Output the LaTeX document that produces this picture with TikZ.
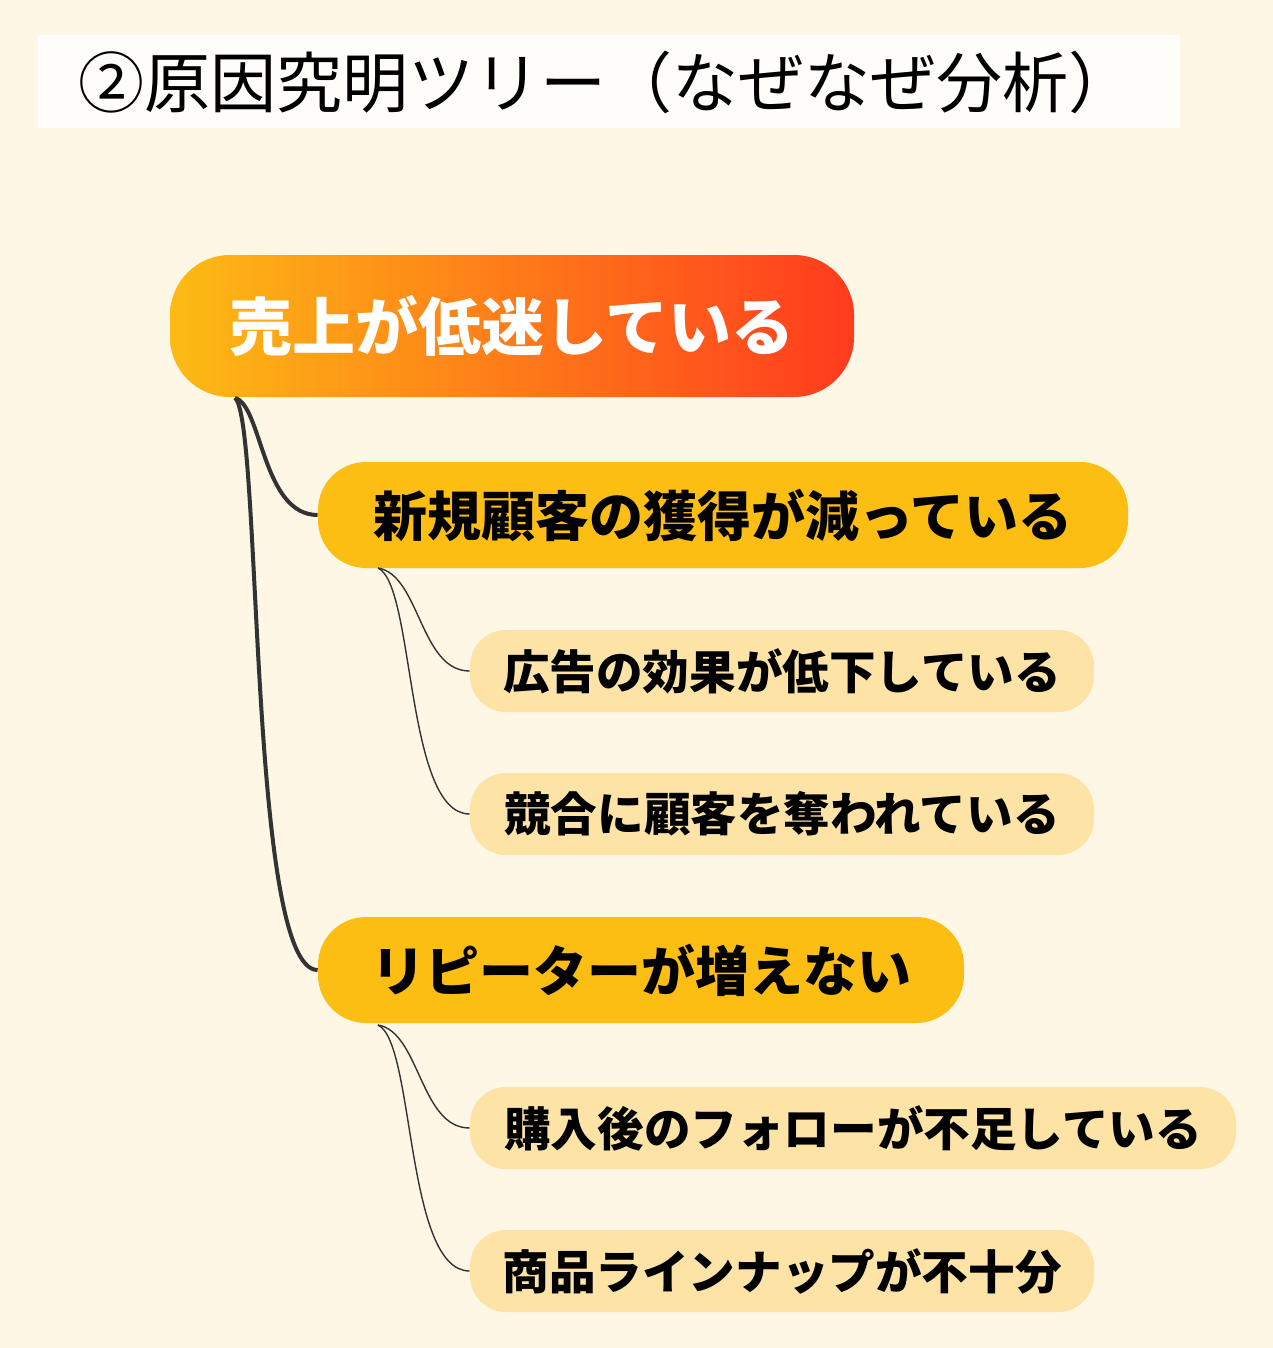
\documentclass[tikz,border=0pt]{standalone}
\usepackage{fontspec}
\setmainfont{Noto Sans CJK JP}
\usetikzlibrary{positioning}
\definecolor{bgcream}{HTML}{FEF7E6}
\definecolor{rootleft}{HTML}{FDBB14}
\definecolor{rootright}{HTML}{FF3B1E}
\definecolor{mainbox}{HTML}{FDBE14}
\definecolor{subbox}{HTML}{FDE3A6}
\definecolor{linkgray}{HTML}{333333}
\tikzset{
  rootbox/.style={rounded corners=30pt, left color=rootleft, right color=rootright,
    text=white, font=\fontsize{31.5}{34}\selectfont\bfseries,
    minimum width=342pt, minimum height=71pt},
  causebox/.style={rounded corners=24pt, fill=mainbox,
    font=\fontsize{27}{30}\selectfont\bfseries, minimum height=53pt},
  reasonbox/.style={rounded corners=18pt, fill=subbox,
    font=\fontsize{23.3}{26}\selectfont\bfseries, minimum height=41pt},
  thicklink/.style={draw=linkgray, line width=2pt},
  thinlink/.style={draw=linkgray, line width=0.7pt}
}
\begin{document}
\begin{tikzpicture}[x=0.5pt,y=-0.5pt]
	\useasboundingbox (0,0) rectangle (1273,1348);
	\fill[bgcream] (0,0) rectangle (1273,1348);
	\fill[white!80!bgcream] (38,35) rectangle (1180,128);
	\node[anchor=west, inner sep=0pt, font=\fontsize{33}{36}\selectfont] (title) at (78,82) {②原因究明ツリー（なぜなぜ分析）};
	% tree
	\node[rootbox] (root) at (512,326) {売上が低迷している};
	\node[causebox, minimum width=405pt] (c1) at (723,515) {新規顧客の獲得が減っている};
	\node[reasonbox, minimum width=312pt] (r1) at (782,671) {広告の効果が低下している};
	\node[reasonbox, minimum width=312pt] (r2) at (782,814) {競合に顧客を奪われている};
	\node[causebox, minimum width=323pt] (c2) at (641,970) {リピーターが増えない};
	\node[reasonbox, minimum width=383pt] (r3) at (853,1128) {購入後のフォローが不足している};
	\node[reasonbox, minimum width=312pt] (r4) at (782,1271) {商品ラインナップが不十分};
	\coordinate (rootfoot) at (235,398);
	\coordinate (c1foot) at (378,568);
	\coordinate (c2foot) at (378,1025);
	\draw[thicklink] (rootfoot) .. controls (262,405) and (262,515) .. (c1.west);
	\draw[thicklink] (rootfoot) .. controls (262,420) and (248,970) .. (c2.west);
	\draw[thinlink] (c1foot) .. controls (420,575) and (420,671) .. (r1.west);
	\draw[thinlink] (c1foot) .. controls (415,585) and (405,814) .. (r2.west);
	\draw[thinlink] (c2foot) .. controls (420,1032) and (420,1128) .. (r3.west);
	\draw[thinlink] (c2foot) .. controls (415,1042) and (405,1271) .. (r4.west);
\end{tikzpicture}
\end{document}
